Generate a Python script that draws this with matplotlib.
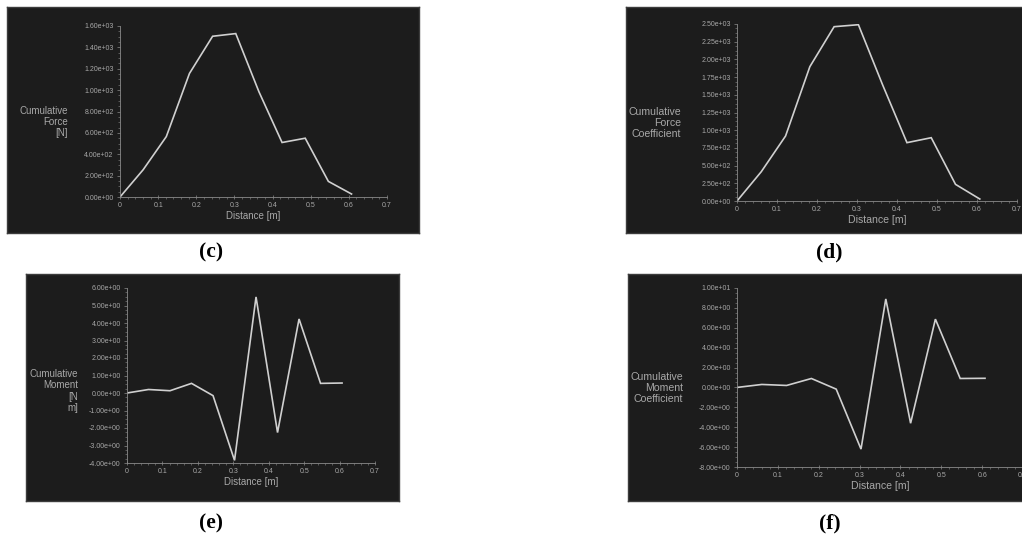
import matplotlib
matplotlib.use('Agg')
import matplotlib.pyplot as plt
from matplotlib.ticker import FormatStrFormatter, MultipleLocator, AutoMinorLocator

plt.rcParams['font.family'] = ['Liberation Sans', 'DejaVu Sans']

# Sample positions along the blade (m)
distance = [0.0, 0.0607, 0.1214, 0.1821, 0.2428, 0.3035, 0.3642, 0.4249,
            0.4856, 0.5463, 0.607]

# Cumulative force [N]
force = [0, 255, 565, 1156, 1504, 1529, 985, 510, 550, 146, 28]
# Cumulative force coefficient
force_coef = [0, 414, 918, 1897, 2462, 2490, 1638, 824, 894, 235, 28]
# Cumulative moment [N m]
moment = [0, 0.20, 0.13, 0.55, -0.15, -3.85, 5.49, -2.26, 4.23, 0.55, 0.57]
# Cumulative moment coefficient
moment_coef = [0, 0.30, 0.20, 0.90, -0.17, -6.20, 8.90, -3.60, 6.87, 0.90, 0.92]

W, H = 1022, 540
BG = '#1c1c1c'
EDGE = '#3c3c3c'
LINE = '#d0d0d0'
TXT = '#a8a8a8'
TICK = '#8a8a8a'


def px_rect(x0, y0, x1, y1):
    """Pixel box (top-left origin) to figure fraction rect"""
    return [x0 / W, 1 - y1 / H, (x1 - x0) / W, (y1 - y0) / H]


def draw_panel(fig, panel_box, axes_box, y, ylim, ystep, ylabel, ylabel_xy,
               caption, caption_xy, fs=7):
    bg = fig.add_axes(px_rect(*panel_box))
    bg.set_facecolor(BG)
    bg.set_xticks([])
    bg.set_yticks([])
    for s in bg.spines.values():
        s.set_color(EDGE)
        s.set_linewidth(1.0)

    ax = fig.add_axes(px_rect(*axes_box))
    ax.patch.set_alpha(0)
    ax.plot(distance, y, color=LINE, lw=1.2, solid_joinstyle='miter')
    ax.set_xlim(0, 0.7)
    ax.set_ylim(*ylim)
    ax.xaxis.set_major_locator(MultipleLocator(0.1))
    ax.yaxis.set_major_locator(MultipleLocator(ystep))
    ax.xaxis.set_minor_locator(AutoMinorLocator(5))
    ax.yaxis.set_minor_locator(AutoMinorLocator(4))
    ax.xaxis.set_major_formatter(FormatStrFormatter('%g'))
    ax.yaxis.set_major_formatter(FormatStrFormatter('%.2e'))
    for side in ['top', 'right']:
        ax.spines[side].set_visible(False)
    for side in ['left', 'bottom']:
        ax.spines[side].set_color(TICK)
        ax.spines[side].set_linewidth(0.6)
    ax.tick_params(which='major', colors=TICK, labelcolor=TXT, labelsize=5,
                   length=2.5, width=0.5, pad=2)
    ax.tick_params(which='minor', colors=TICK, length=1.3, width=0.4)
    ax.tick_params(axis='x', direction='inout', pad=2)
    ax.set_xlabel('Distance [m]', color=TXT, fontsize=fs, labelpad=1.5)

    fig.text(ylabel_xy[0] / W, 1 - ylabel_xy[1] / H, ylabel, color=TXT,
             fontsize=fs, ha='right', va='center', multialignment='right',
             linespacing=1.15)
    fig.text(caption_xy[0] / W, 1 - caption_xy[1] / H, caption,
             family='Liberation Serif', fontweight='bold', fontsize=15.5,
             ha='center', va='center', color='black')
    return ax


fig = plt.figure(figsize=(W / 100, H / 100), dpi=100)

draw_panel(fig, (7, 7, 419, 233), (120, 26, 387, 197), force, (0, 1600), 200,
           'Cumulative\nForce\n[N]', (68, 122), '(c)', (211, 252))
draw_panel(fig, (626, 7, 1030, 233), (737, 24, 1017, 201), force_coef,
           (0, 2500), 250, 'Cumulative\nForce\nCoefficient', (681, 123),
           '(d)', (829, 252), fs=7.6)
draw_panel(fig, (26, 274, 399, 501), (127, 288, 375, 463), moment, (-4, 6), 1,
           'Cumulative\nMoment\n[N\nm]', (78, 391), '(e)', (211, 523))
draw_panel(fig, (628, 274, 1030, 501), (737, 288, 1023, 467), moment_coef,
           (-8, 10), 2, 'Cumulative\nMoment\nCoefficient', (683, 388),
           '(f)', (830, 523), fs=7.6)

fig.savefig('out.png', dpi=100, facecolor='white')
